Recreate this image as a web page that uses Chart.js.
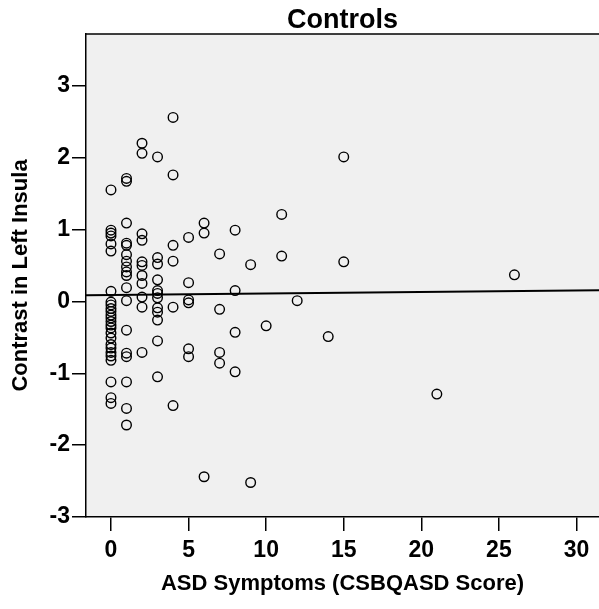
<!DOCTYPE html>
<html>
<head>
<meta charset="utf-8">
<script src="https://cdn.jsdelivr.net/npm/chart.js@4"></script>
<style>
  body { margin: 0; background: #fff; }
  canvas { display: block; }
</style>
</head>
<body>
<canvas id="scatter" width="599" height="609"></canvas>
<script>
// CSBQ ASD score per child
const asdScore = [
  0,0,0,0,0,0,0,0,0,0,0,0,0,0,0,0,0,0,0,0,0,0,0,0,0,0,
  1,1,1,1,1,1,1,1,1,1,1,1,1,1,1,1,1,1,
  2,2,2,2,2,2,2,2,2,2,2,
  3,3,3,3,3,3,3,3,3,3,3,3,
  4,4,4,4,4,4,
  5,5,5,5,5,5,
  6,6,6,
  7,7,7,7,
  8,8,8,8,
  9,9,
  10,
  11,11,
  12,
  14,
  15,15,
  21,
  26
];
// contrast in left insula, same order
const insulaContrast = [
  1.55,0.99,0.95,0.91,0.80,0.70,0.14,-0.01,-0.05,-0.10,-0.14,-0.19,-0.23,-0.28,-0.33,-0.37,-0.44,-0.51,-0.60,-0.65,-0.71,-0.76,-0.82,-1.12,-1.34,-1.42,
  1.71,1.67,1.09,0.81,0.78,0.65,0.56,0.48,0.41,0.36,0.19,0.01,-0.40,-0.72,-0.77,-1.12,-1.49,-1.72,
  2.20,2.06,0.94,0.85,0.55,0.50,0.36,0.25,0.06,-0.08,-0.71,
  2.01,0.61,0.52,0.30,0.15,0.11,0.05,-0.09,-0.15,-0.26,-0.55,-1.05,
  2.56,1.76,0.78,0.56,-0.08,-1.45,
  0.89,0.26,0.02,-0.02,-0.66,-0.77,
  1.09,0.95,-2.44,
  0.66,-0.11,-0.71,-0.86,
  0.99,0.15,-0.43,-0.98,
  0.51,-2.52,
  -0.34,
  1.21,0.63,
  0.01,
  -0.49,
  2.01,0.55,
  -1.29,
  0.37
];
// fit line end points
const fitX = [-1.61, 31.45];
const fitY = [0.085, 0.154];

const xTicks = [0, 5, 10, 15, 20, 25, 30];
const yTicks = [-3, -2, -1, 0, 1, 2, 3];

const FONT = "'Liberation Sans', Arial, sans-serif";

const plotFrame = {
  id: 'plotFrame',
  beforeDraw(chart) {
    const { ctx, chartArea: a } = chart;
    ctx.save();
    ctx.fillStyle = '#f0f0f0';
    ctx.fillRect(a.left, a.top, a.right - a.left, a.bottom - a.top);
    ctx.restore();
  },
  afterDraw(chart) {
    const { ctx, chartArea: a } = chart;
    ctx.save();
    ctx.strokeStyle = '#000';
    ctx.lineWidth = 1.5;
    ctx.beginPath();
    ctx.moveTo(a.left, a.top);
    ctx.lineTo(a.right, a.top);
    ctx.stroke();
    ctx.restore();
  }
};

new Chart(document.getElementById('scatter'), {
  type: 'scatter',
  data: {
    datasets: [
      {
        data: asdScore.map((x, i) => ({ x: x, y: insulaContrast[i] })),
        pointStyle: 'circle',
        pointRadius: 4.8,
        borderWidth: 1.4,
        borderColor: '#000',
        backgroundColor: 'rgba(0,0,0,0)'
      },
      {
        type: 'line',
        data: fitX.map((x, i) => ({ x: x, y: fitY[i] })),
        borderColor: '#000',
        borderWidth: 2,
        pointRadius: 0,
        fill: false
      }
    ]
  },
  options: {
    responsive: false,
    animation: false,
    layout: { autoPadding: false, padding: 0 },
    plugins: {
      legend: { display: false },
      tooltip: { enabled: false },
      title: {
        display: true,
        text: 'Controls',
        fullSize: false,
        color: '#000',
        font: { family: FONT, size: 27, weight: 'bold', lineHeight: 1 },
        padding: { top: 7, bottom: 0 }
      }
    },
    scales: {
      x: {
        type: 'linear',
        min: -1.61,
        max: 31.45,
        afterBuildTicks: s => { s.ticks = xTicks.map(v => ({ value: v })); },
        afterFit: s => { s.height = 92; s.paddingLeft = 0; s.paddingRight = 0; },
        grid: { drawOnChartArea: false, color: '#000', lineWidth: 1.5, tickLength: 14 },
        border: { display: true, color: '#000', width: 1.5 },
        ticks: { color: '#000', padding: 6, maxRotation: 0, font: { family: FONT, size: 23, weight: 'bold' } },
        title: {
          display: true,
          text: 'ASD Symptoms (CSBQASD Score)',
          color: '#000',
          font: { family: FONT, size: 22, weight: 'bold' },
          padding: { top: 0, bottom: 12 }
        }
      },
      y: {
        type: 'linear',
        min: -3,
        max: 3.72,
        afterBuildTicks: s => { s.ticks = yTicks.map(v => ({ value: v })); },
        afterFit: s => { s.width = 86; },
        grid: { drawOnChartArea: false, color: '#000', lineWidth: 1.5, tickLength: 14 },
        border: { display: true, color: '#000', width: 1.5 },
        ticks: { color: '#000', padding: 2, font: { family: FONT, size: 23, weight: 'bold' } },
        title: {
          display: true,
          text: 'Contrast in Left Insula',
          color: '#000',
          font: { family: FONT, size: 22, weight: 'bold' },
          padding: { top: 8, bottom: 0 }
        }
      }
    }
  },
  plugins: [plotFrame]
});
</script>
</body>
</html>
